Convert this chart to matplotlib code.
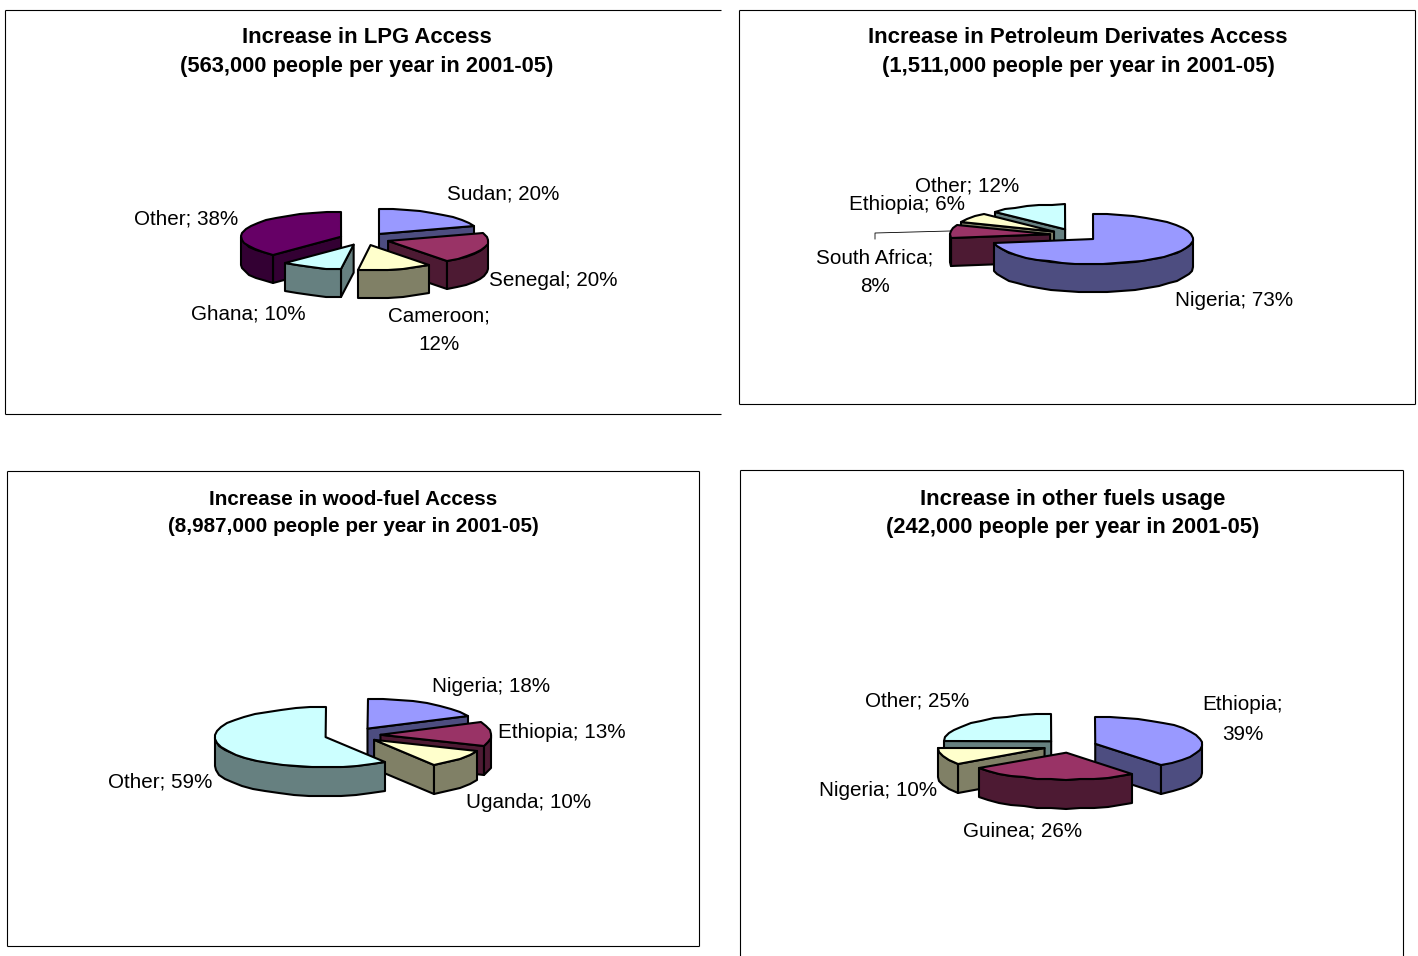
import numpy as np
import matplotlib
matplotlib.use("Agg")
import matplotlib.pyplot as plt
from matplotlib.patches import Polygon

plt.rcParams['font.family'] = ['Liberation Sans', 'DejaVu Sans']

lpg_names = ["Sudan", "Senegal", "Cameroon", "Ghana", "Other"]
lpg_values = [20, 20, 12, 10, 38]
petrol_names = ["Nigeria", "South Africa", "Ethiopia", "Other"]
petrol_values = [72.6, 8.4, 6.4, 12.4]
wood_names = ["Nigeria", "Ethiopia", "Uganda", "Other"]
wood_values = [18, 13, 10, 59]
other_names = ["Ethiopia", "Guinea", "Nigeria", "Other"]
other_values = [39.4, 25.7, 10, 24.9]

top_blue, side_blue = "#9999FF", "#4D4D80"
top_maroon, side_maroon = "#993366", "#4D1A33"
top_yellow, side_yellow = "#FFFFCC", "#808066"
top_cyan, side_cyan = "#CCFFFF", "#668080"
top_purple, side_purple = "#660066", "#330033"

fig = plt.figure(figsize=(14.18, 9.56), dpi=100)
ax = fig.add_axes([0, 0, 1, 1])
ax.set_xlim(0, 1418)
ax.set_ylim(956, 0)
ax.axis("off")

LW = 1.5


def arc(cx, cy, rx, ry, a0, a1, step=8.0):
    # clockwise from 12 o'clock, degrees. whole pixels give the wobbly rim
    n = max(int(round((a1 - a0) / step)), 1)
    t = np.radians(np.linspace(a0, a1, n + 1))
    return np.round(np.column_stack([cx + rx * np.sin(t), cy - ry * np.cos(t)]))


def face(pts, color, z):
    ax.add_patch(Polygon(pts, closed=True, facecolor=color, edgecolor="black",
                         linewidth=LW, joinstyle="round", zorder=z))


def pie3d(values, tops, sides, order, cx, cy, rx, ry, depth, explode):
    total = float(sum(values))
    edges = np.concatenate([[0], np.cumsum(values)]) / total * 360
    z = 2
    for i in order:
        a0, a1 = edges[i], edges[i + 1]
        mid = np.radians((a0 + a1) / 2)
        px = cx + explode * np.sin(mid)
        py = cy - explode * np.cos(mid) * ry / rx
        down = np.array([0, depth])
        apex = np.array([px, py])
        top = arc(px, py, rx, ry, a0, a1)
        # cut faces that look toward the viewer
        if np.sin(np.radians(a0)) < -1e-6:
            e = top[0]
            face([apex, e, e + down, apex + down], sides[i], z)
            z += 0.01
        if np.sin(np.radians(a1)) > 1e-6:
            e = top[-1]
            face([apex, e, e + down, apex + down], sides[i], z)
            z += 0.01
        lo, hi = max(a0, 90), min(a1, 270)
        if hi > lo:
            rim = arc(px, py, rx, ry, lo, hi)
            face(np.vstack([rim, (rim + down)[::-1]]), sides[i], z)
            z += 0.01
        face(np.vstack([[apex], top]), tops[i], z)
        z += 0.01


def label(x, y, name, value, wrap=False, size=14.9):
    y = y + 1
    if wrap:
        ax.text(x, y, f"{name};", ha="center", va="center", fontsize=size, zorder=10)
        ax.text(x, y + 29, f"{round(value)}%", ha="center", va="center", fontsize=size, zorder=10)
    else:
        ax.text(x, y, f"{name}; {round(value)}%", ha="center", va="center", fontsize=size, zorder=10)


def title(x, y0, y1, line0, line1, size0, size1):
    ax.text(x, y0 + 1, line0, ha="center", va="center", fontsize=size0, fontweight="bold", zorder=10)
    ax.text(x, y1 + 1, line1, ha="center", va="center", fontsize=size1, fontweight="bold", zorder=10)


def frame(x0, y0, x1, y1, sides="ltrb"):
    kw = dict(color="black", linewidth=0.8, zorder=1, solid_capstyle="butt")
    if "l" in sides:
        ax.plot([x0, x0], [y0, y1], **kw)
    if "t" in sides:
        ax.plot([x0, x1], [y0, y0], **kw)
    if "r" in sides:
        ax.plot([x1, x1], [y0, y1], **kw)
    if "b" in sides:
        ax.plot([x0, x1], [y1, y1], **kw)


# top left
frame(4.5, 9.5, 721, 413.5, "ltb")
title(366.5, 36, 65, "Increase in LPG Access", "(563,000 people per year in 2001-05)", 15.9, 15.75)
pie3d(lpg_values,
      [top_blue, top_maroon, top_yellow, top_cyan, top_purple],
      [side_blue, side_maroon, side_yellow, side_cyan, side_purple],
      [0, 4, 1, 3, 2], 364.3, 239, 100, 25, 28, 25)
label(503, 193, lpg_names[0], lpg_values[0])
label(553, 280, lpg_names[1], lpg_values[1])
label(439, 315, lpg_names[2], lpg_values[2], wrap=True)
label(248, 313, lpg_names[3], lpg_values[3])
label(186, 218, lpg_names[4], lpg_values[4])

# top right
frame(738.5, 9.5, 1414.5, 403.5)
title(1078, 36, 65, "Increase in Petroleum Derivates Access", "(1,511,000 people per year in 2001-05)", 16.0, 15.8)
pie3d(petrol_values,
      [top_blue, top_maroon, top_yellow, top_cyan],
      [side_blue, side_maroon, side_yellow, side_cyan],
      [3, 2, 1, 0], 1074.5, 235, 100, 25, 28, 24.6)
ax.plot([875, 875, 950], [239, 233, 231], color="black", linewidth=0.6, zorder=9)
label(1234, 300, petrol_names[0], petrol_values[0])
label(875, 257, petrol_names[1], petrol_values[1], wrap=True)
label(907, 203, petrol_names[2], petrol_values[2])
label(967, 185, petrol_names[3], petrol_values[3])

# bottom left
frame(6.5, 470.5, 698.5, 945.5)
title(353, 498, 526, "Increase in wood-fuel Access", "(8,987,000 people per year in 2001-05)", 14.9, 14.85)
pie3d(wood_values,
      [top_blue, top_maroon, top_yellow, top_cyan],
      [side_blue, side_maroon, side_yellow, side_cyan],
      [0, 1, 2, 3], 352.5, 735, 111, 30, 29, 28)
label(491, 685, wood_names[0], wood_values[0])
label(562, 731, wood_names[1], wood_values[1])
label(529, 802, wood_names[2], wood_values[2])
label(160, 781, wood_names[3], wood_values[3])

# bottom right, frame runs off the page
frame(739.5, 469.5, 1402.5, 960, "ltr")
title(1073, 498, 526, "Increase in other fuels usage", "(242,000 people per year in 2001-05)", 16.0, 15.75)
pie3d(other_values,
      [top_blue, top_maroon, top_yellow, top_cyan],
      [side_blue, side_maroon, side_yellow, side_cyan],
      [3, 2, 0, 1], 1070, 746, 107, 27, 29, 26.7)
label(1243, 704, other_names[0], other_values[0], wrap=True)
label(1023, 830, other_names[1], other_values[1])
label(878, 789, other_names[2], other_values[2])
label(917, 700, other_names[3], other_values[3])

fig.savefig("out.png", dpi=100, facecolor="white")
